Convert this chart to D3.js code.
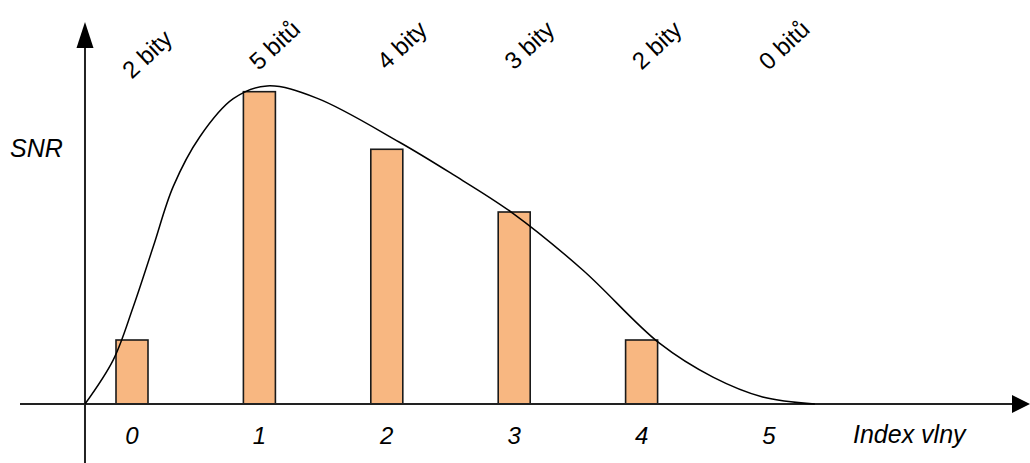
<!DOCTYPE html>
<html><head><meta charset="utf-8">
<script src="https://cdn.jsdelivr.net/npm/d3@7"></script>
<style>html,body{margin:0;padding:0;background:#fff}svg{display:block}text{font-family:"Liberation Sans",Arial,sans-serif}</style>
</head><body><svg id="c" width="1030" height="463"></svg>
<script>
const categories = [0, 1, 2, 3, 4, 5];
const snrValues = [1.0, 4.88, 3.98, 3.0, 1.0];
const bitLabels = ["2 bity", "5 bitů", "4 bity", "3 bity", "2 bity", "0 bitů"];
const curveX = [-0.369, -0.147, 0.010, 0.167, 0.324, 0.534, 0.795, 1.06, 1.45, 2.10, 2.50, 2.99, 3.54, 4.14, 4.56, 4.95, 5.36];
const curveY = [0, 0.69, 1.52, 2.46, 3.40, 4.18, 4.77, 4.97, 4.78, 4.09, 3.61, 2.98, 2.09, 0.95, 0.42, 0.11, 0];
const xTitle = "Index vlny";
const yTitle = "SNR";

const svg = d3.select("#c");
const x = d3.scaleLinear().domain([0, 5]).range([132, 769]);
const y = d3.scaleLinear().domain([0, 5]).range([404, 84]);
const x0 = x(-0.369);
const barW = 32;

// bars
svg.selectAll("rect.bar").data(snrValues).join("rect")
  .attr("class", "bar")
  .attr("x", (d, i) => x(categories[i]) - barW / 2)
  .attr("y", d => y(d))
  .attr("width", barW)
  .attr("height", d => y(0) - y(d))
  .attr("fill", "#F8B781")
  .attr("stroke", "#1a1a1a")
  .attr("stroke-width", 1.6);

// axes
svg.append("line").attr("x1", 20).attr("x2", 1014).attr("y1", y(0)).attr("y2", y(0))
  .attr("stroke", "#222").attr("stroke-width", 2);
svg.append("path").attr("d", `M1030,${y(0)} L1012,${y(0) - 9} L1012,${y(0) + 9} Z`).attr("fill", "#000");
svg.append("line").attr("x1", x0).attr("x2", x0).attr("y1", 463).attr("y2", 46)
  .attr("stroke", "#222").attr("stroke-width", 2);
svg.append("path").attr("d", `M${x0},22 L${x0 - 8.5},48 L${x0 + 8.5},48 Z`).attr("fill", "#000");

// curve
const pts = curveX.map((v, i) => [v, curveY[i]]);
svg.append("path").datum(pts)
  .attr("d", d3.line().x(d => x(d[0])).y(d => y(d[1])).curve(d3.curveCatmullRom.alpha(0.5)))
  .attr("fill", "none").attr("stroke", "#000").attr("stroke-width", 1.5);

// category labels
svg.selectAll("text.cat").data(categories).join("text")
  .attr("class", "cat")
  .attr("x", d => x(d)).attr("y", 444)
  .attr("text-anchor", "middle")
  .attr("font-size", 24).attr("font-style", "italic")
  .text(d => d);

// bit labels
svg.selectAll("text.bits").data(bitLabels).join("text")
  .attr("class", "bits")
  .attr("transform", (d, i) => `translate(${x(categories[i]) + 15},${i === 0 ? 54 : 45}) rotate(-43)`)
  .attr("text-anchor", "middle").attr("dominant-baseline", "central")
  .attr("font-size", 24)
  .text(d => d);

svg.append("text").attr("x", 853).attr("y", 443).attr("font-size", 25).attr("font-style", "italic").text(xTitle);
svg.append("text").attr("x", 10).attr("y", 157).attr("font-size", 25).attr("font-style", "italic").text(yTitle);
</script></body></html>
